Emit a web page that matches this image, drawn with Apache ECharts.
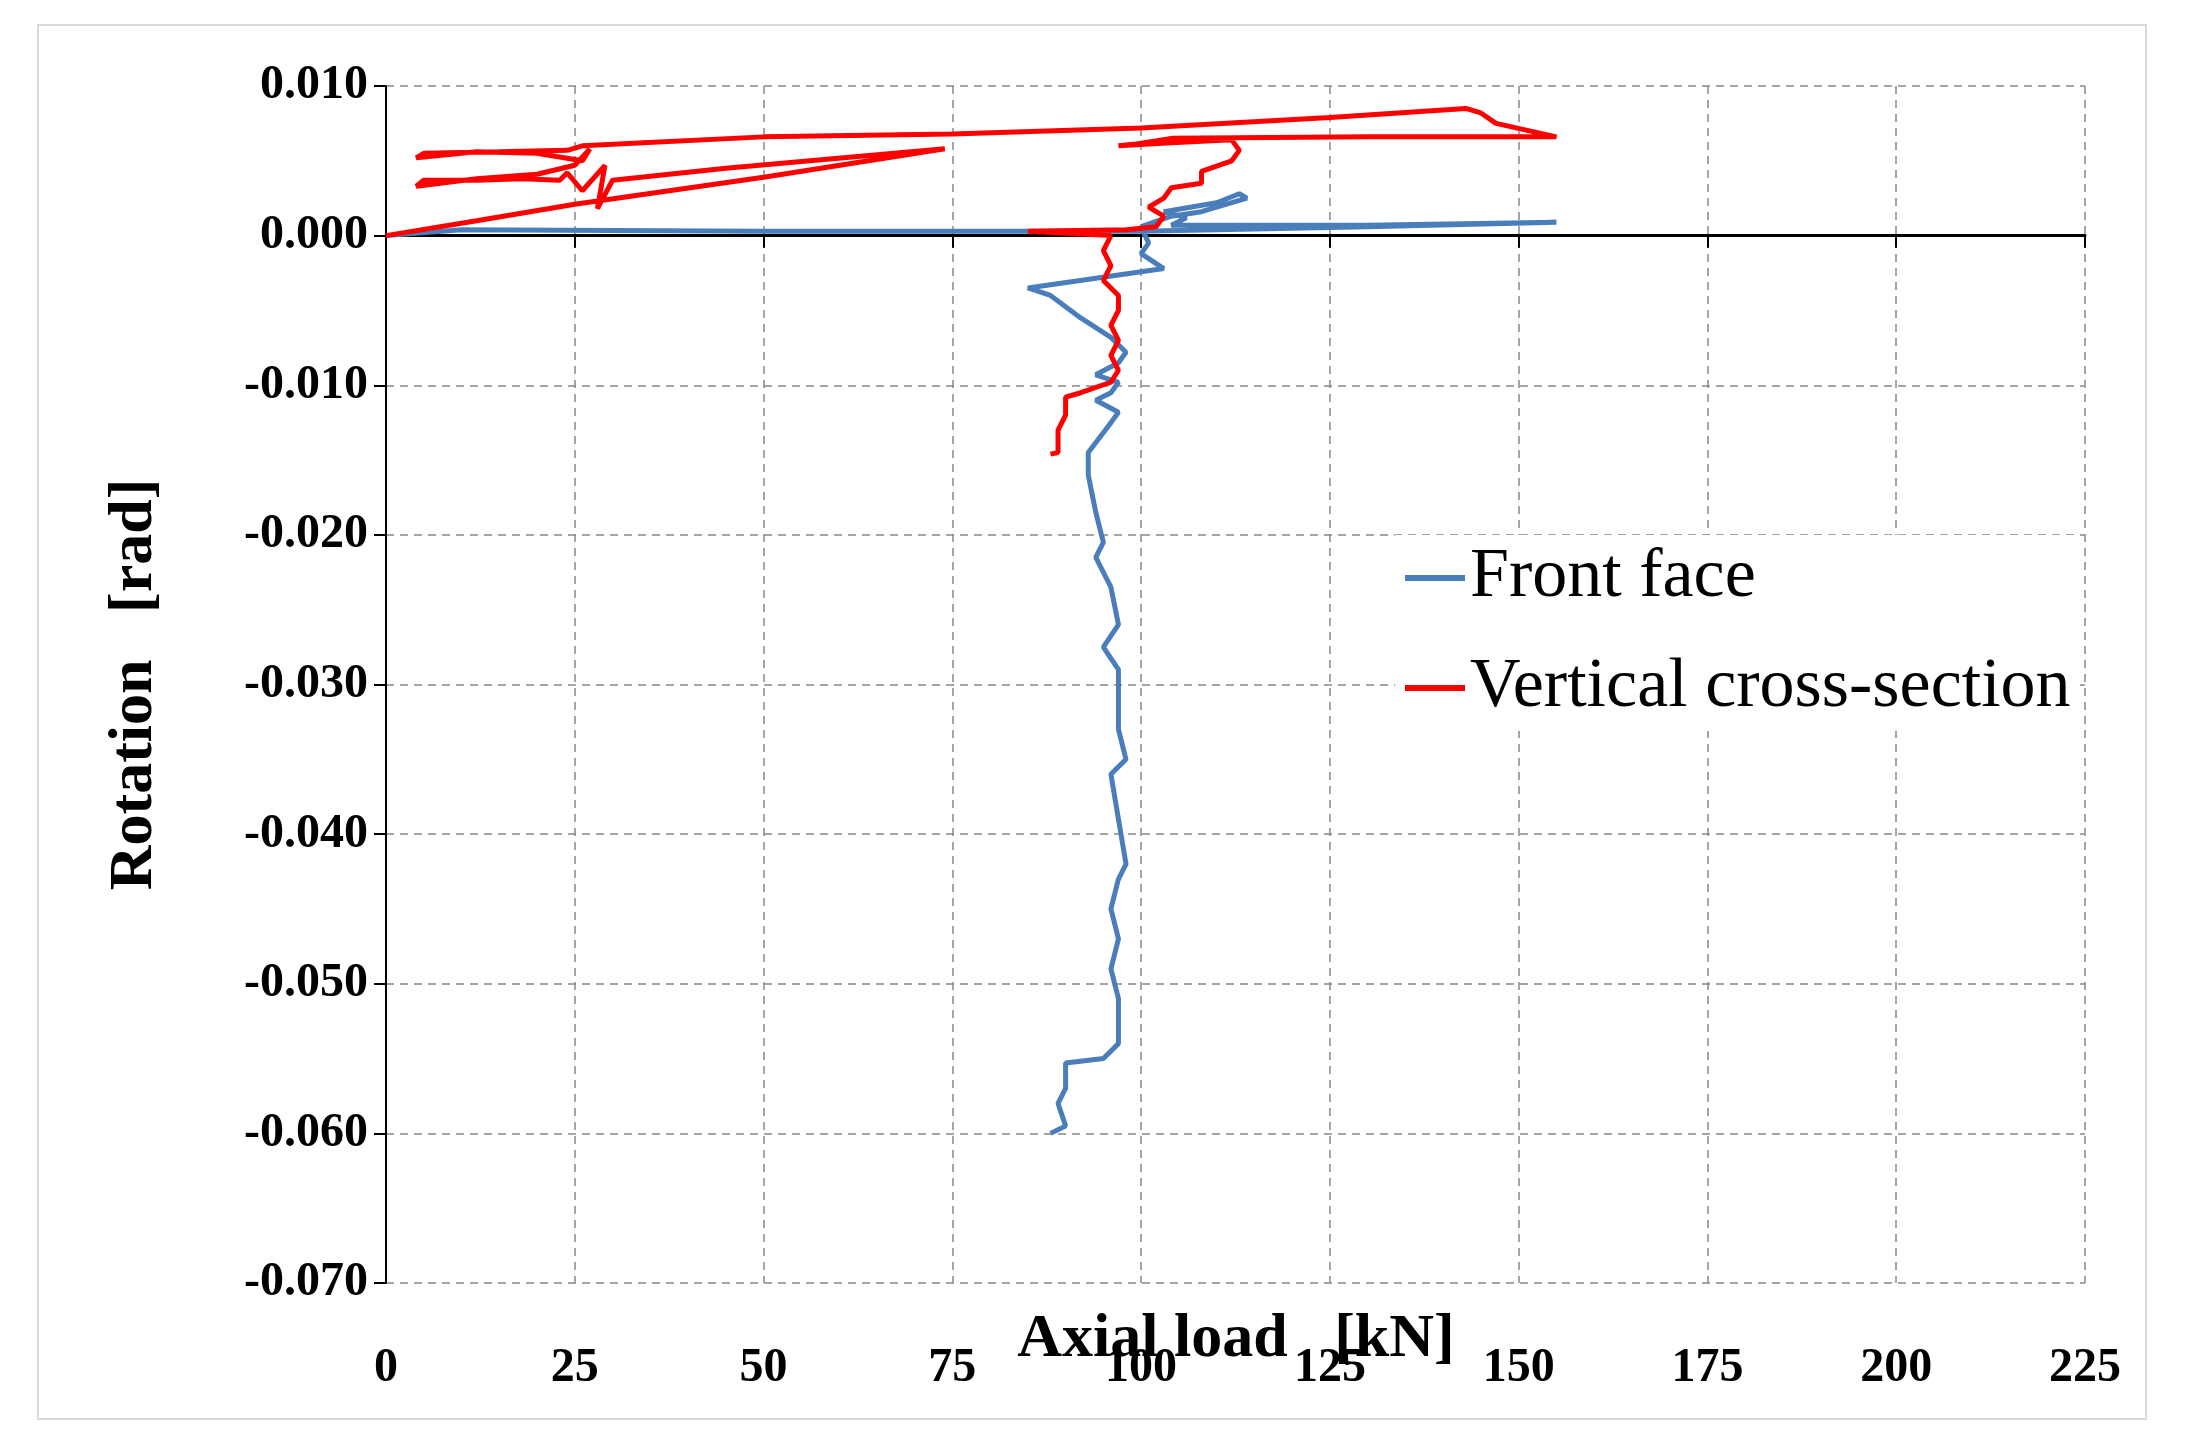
<!DOCTYPE html>
<html><head><meta charset="utf-8">
<script src="https://cdn.jsdelivr.net/npm/echarts@6/dist/echarts.min.js"></script>
<style>html,body{margin:0;padding:0;background:#fff}#c{width:2185px;height:1448px}</style>
</head><body><div id="c"></div>
<script>
const xTicks = [0,25,50,75,100,125,150,175,200,225];
const yTicks = [-0.07,-0.06,-0.05,-0.04,-0.03,-0.02,-0.01,0,0.01];
const frontFace = [[0,0],[10,0.0004],[50,0.0003],[100,0.0003],[130,0.0006],[155,0.0009],[130,0.0007],[104,0.0007],[106,0.0012],[103,0.0016],[110,0.0022],[113,0.0028],[114,0.0025],[108,0.0016],[104,0.0013],[100,0.0006],[101,-0.0005],[100,-0.0012],[103,-0.0022],[85,-0.0035],[88,-0.004],[92,-0.0055],[96,-0.0068],[98,-0.0078],[97,-0.0085],[94,-0.0093],[97,-0.0098],[96,-0.0105],[94,-0.011],[97,-0.0118],[96,-0.0125],[93,-0.0145],[93,-0.016],[94,-0.0185],[95,-0.0205],[94,-0.0215],[96,-0.0235],[97,-0.026],[95,-0.0275],[97,-0.029],[97,-0.033],[98,-0.035],[96,-0.036],[97,-0.039],[98,-0.042],[97,-0.043],[96,-0.045],[97,-0.047],[96,-0.049],[97,-0.051],[97,-0.054],[95,-0.055],[90,-0.0553],[90,-0.057],[89,-0.058],[90,-0.0595],[88,-0.06]];
const verticalCross = [[0,0],[12,0.001],[25,0.0021],[50,0.0039],[74,0.0058],[45,0.0045],[30,0.0037],[28,0.0018],[29,0.0047],[26,0.003],[24,0.0042],[23,0.0037],[18,0.0038],[12,0.0037],[5,0.0037],[4,0.0033],[12,0.0038],[20,0.0041],[25,0.0047],[27,0.0058],[26,0.0050],[20,0.0055],[12,0.0056],[4,0.0052],[5,0.0055],[15,0.0056],[24,0.0057],[26,0.006],[50,0.0066],[75,0.0068],[100,0.0072],[125,0.0079],[143,0.0085],[145,0.0082],[147,0.0075],[155,0.0066],[130,0.0066],[104,0.0065],[99,0.0061],[97,0.006],[104,0.0062],[112,0.0064],[113,0.0057],[112,0.005],[108,0.0043],[108,0.0035],[104,0.0032],[103,0.0025],[101,0.0019],[103,0.0013],[102,0.0006],[98,0.0004],[85,0.0003],[96,0.0],[95,-0.001],[96,-0.002],[95,-0.003],[97,-0.004],[97,-0.005],[96,-0.006],[97,-0.007],[96,-0.008],[97,-0.009],[96,-0.0098],[92,-0.0105],[90,-0.0108],[90,-0.012],[89,-0.013],[89,-0.0145],[88,-0.0146]];
const F = 'Liberation Serif';
const chart = echarts.init(document.getElementById('c'));
chart.setOption({
  backgroundColor:'#fff',
  animation:false,
  graphic:[
    {type:'rect',shape:{x:38,y:25,width:2108,height:1394},style:{fill:'none',stroke:'#d9d9d9',lineWidth:2},z:-10},
    {type:'text',x:1236,y:1340,style:{text:'Axial load   [kN]',font:'bold 62px "Liberation Serif"',fill:'#000',textAlign:'center',textVerticalAlign:'middle'}}
  ],
  grid:{left:386,right:100,top:86,bottom:165,containLabel:false,outerBoundsMode:'none'},
  xAxis:{type:'value',min:xTicks[0],max:xTicks[xTicks.length-1],interval:25,
    axisLine:{onZero:true,lineStyle:{color:'#000',width:3}},
    axisTick:{show:true,inside:false,length:12,lineStyle:{color:'#000',width:2}},
    axisLabel:{fontFamily:F,fontWeight:'bold',fontSize:48,color:'#000',margin:62},
    splitLine:{show:true,lineStyle:{color:'#888',type:[8,6],width:1.5}}},
  yAxis:{type:'value',min:yTicks[0],max:yTicks[yTicks.length-1],interval:0.01,
    name:'Rotation   [rad]',nameLocation:'middle',nameGap:220,
    nameTextStyle:{fontFamily:F,fontWeight:'bold',fontSize:62,color:'#000'},
    axisLine:{show:true,onZero:false,lineStyle:{color:'#000',width:2}},
    axisTick:{show:true,length:12,lineStyle:{color:'#000',width:2}},
    axisLabel:{fontFamily:F,fontWeight:'bold',fontSize:48,color:'#000',margin:18,formatter:v=>v.toFixed(3)},
    splitLine:{show:true,lineStyle:{color:'#888',type:[8,6],width:1.5}}},
  legend:{orient:'vertical',left:1395,top:535,itemGap:40,itemWidth:60,itemHeight:6,icon:'rect',
    backgroundColor:'#fff',padding:[8,4,8,10],
    textStyle:{fontFamily:F,fontSize:70,color:'#000'},
    data:['Front face','Vertical cross-section']},
  series:[
    {name:'Front face',type:'line',data:frontFace,showSymbol:false,symbol:'none',lineStyle:{color:'#4a7ebb',width:5},itemStyle:{color:'#4a7ebb'}},
    {name:'Vertical cross-section',type:'line',data:verticalCross,showSymbol:false,symbol:'none',lineStyle:{color:'#ff0000',width:5},itemStyle:{color:'#ff0000'}}
  ]
});
</script></body></html>
